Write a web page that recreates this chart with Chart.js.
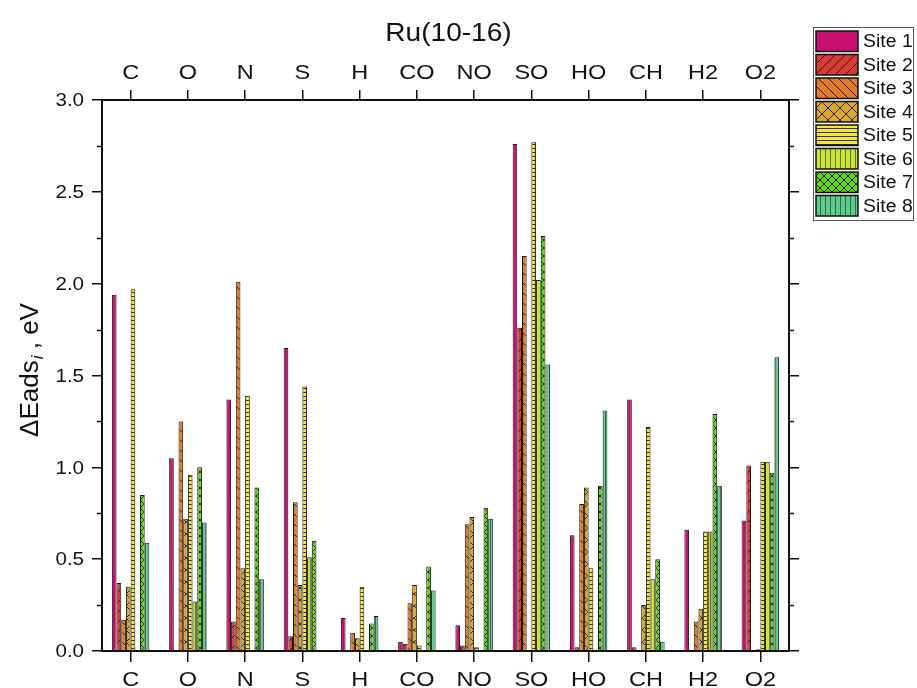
<!DOCTYPE html>
<html>
<head>
<meta charset="utf-8">
<script src="https://cdn.jsdelivr.net/npm/chart.js@4.4.1/dist/chart.umd.min.js"></script>
<style>
    html, body { margin: 0; padding: 0; background: #fff; }
    #wrap { width: 917px; height: 688px; }
</style>
</head>
<body>
<div id="wrap"><canvas id="chart" width="917" height="688"></canvas></div>
<script>
const categories = ['C', 'O', 'N', 'S', 'H', 'CO', 'NO', 'SO', 'HO', 'CH', 'H2', 'O2'];
const siteLabels = ['Site 1', 'Site 2', 'Site 3', 'Site 4', 'Site 5', 'Site 6', 'Site 7', 'Site 8'];

const site1 = [1.94, 1.05, 1.37, 1.65, 0.18, 0.05, 0.14, 2.76, 0.63, 1.37, 0.66, 0.71];
const site2 = [0.37, 0, 0.16, 0.08, 0, 0.04, 0.03, 1.76, 0.02, 0.02, 0, 1.01];
const site3 = [0.17, 1.25, 2.01, 0.81, 0.10, 0.26, 0.69, 2.15, 0.80, 0, 0.16, 0];
const site4 = [0.35, 0.72, 0.45, 0.36, 0.07, 0.36, 0.73, 0, 0.89, 0.25, 0.23, 0.01];
const site5 = [1.97, 0.96, 1.39, 1.44, 0.35, 0.03, 0.02, 2.77, 0.45, 1.22, 0.65, 1.03];
const site6 = [0, 0.27, 0, 0.51, 0, 0, 0, 2.02, 0, 0.39, 0.65, 1.03];
const site7 = [0.85, 1.00, 0.89, 0.60, 0.15, 0.46, 0.78, 2.26, 0.90, 0.50, 1.29, 0.97];
const site8 = [0.59, 0.70, 0.39, 0, 0.19, 0.33, 0.72, 1.56, 1.31, 0.05, 0.90, 1.60];

const yMajor = [0, 0.5, 1.0, 1.5, 2.0, 2.5, 3.0];
const yMinor = [0.25, 0.75, 1.25, 1.75, 2.25, 2.75];
const chartTitle = 'Ru(10-16)';

const siteColors = ['#c8106e', '#d83a34', '#e07b2c', '#d9a533', '#f1e53c', '#c7e52e', '#67d31d', '#5fcb8c'];
const siteHatch = ['none', 'fwd', 'back', 'cross', 'hlines', 'vlines', 'xsmall', 'vlines'];

const FONT = '"Liberation Sans", Arial, sans-serif';

function makePattern(color, kind) {
    const s = kind === 'cross' ? 12 : kind === 'xsmall' ? 8 : kind === 'hlines' ? 4 : kind === 'vlines' ? 5 : 10;
    const c = document.createElement('canvas');
    c.width = s; c.height = s;
    const g = c.getContext('2d');
    g.fillStyle = color;
    g.fillRect(0, 0, s, s);
    g.strokeStyle = kind === 'vlines' ? 'rgba(20,20,20,0.55)' : 'rgba(20,20,20,0.85)';
    g.lineWidth = 1;
    const fwd = () => {
        g.beginPath();
        g.moveTo(-1, s + 1); g.lineTo(s + 1, -1);
        g.moveTo(-1, 1); g.lineTo(1, -1);
        g.moveTo(s - 1, s + 1); g.lineTo(s + 1, s - 1);
        g.stroke();
    };
    const back = () => {
        g.beginPath();
        g.moveTo(-1, -1); g.lineTo(s + 1, s + 1);
        g.moveTo(s - 1, -1); g.lineTo(s + 1, 1);
        g.moveTo(-1, s - 1); g.lineTo(1, s + 1);
        g.stroke();
    };
    if (kind === 'fwd') fwd();
    if (kind === 'back') back();
    if (kind === 'cross' || kind === 'xsmall') { fwd(); back(); }
    if (kind === 'hlines') {
        g.beginPath(); g.moveTo(0, 0.5); g.lineTo(s, 0.5); g.stroke();
    }
    if (kind === 'vlines') {
        g.beginPath(); g.moveTo(0.5, 0); g.lineTo(0.5, s); g.stroke();
    }
    return g.createPattern(c, 'repeat');
}

const sites = [site1, site2, site3, site4, site5, site6, site7, site8];
const fills = siteColors.map((col, i) => makePattern(col, siteHatch[i]));

// text with a slight horizontal stretch, like the original figure
function text(ctx, str, x, y, size, sx, align, baseline) {
    ctx.save();
    ctx.font = size + 'px ' + FONT;
    ctx.fillStyle = '#111';
    ctx.textAlign = align;
    ctx.textBaseline = baseline;
    ctx.translate(x, y);
    ctx.scale(sx, 1);
    ctx.fillText(str, 0, 0);
    ctx.restore();
}

const decorations = {
    id: 'decorations',
    afterDraw(chart) {
        const ctx = chart.ctx;
        const x = chart.scales.x;
        const y = chart.scales.y;
        const area = chart.chartArea;

        // minor ticks, left and right
        ctx.save();
        ctx.strokeStyle = '#111';
        ctx.lineWidth = 1.5;
        yMinor.forEach(v => {
            const py = Math.round(y.getPixelForValue(v)) + 0.5;
            ctx.beginPath();
            ctx.moveTo(area.left - 5, py); ctx.lineTo(area.left, py);
            ctx.moveTo(area.right, py); ctx.lineTo(area.right + 5, py);
            ctx.stroke();
        });
        ctx.restore();

        // y tick labels
        yMajor.forEach(v => {
            text(ctx, v.toFixed(1), area.left - 18, y.getPixelForValue(v) + 1, 19, 1.08, 'right', 'middle');
        });

        // category labels top and bottom
        categories.forEach((c, i) => {
            const px = x.getPixelForValue(i);
            text(ctx, c, px, 79, 21, 1.12, 'center', 'alphabetic');
            text(ctx, c, px, 686, 21, 1.12, 'center', 'alphabetic');
        });

        // title
        text(ctx, chartTitle, (area.left + area.right) / 2 + 3, 41, 26, 1.08, 'center', 'alphabetic');

        // y axis title: ΔEads_i , eV
        ctx.save();
        ctx.translate(38, 370);
        ctx.rotate(-Math.PI / 2);
        ctx.fillStyle = '#111';
        ctx.textBaseline = 'alphabetic';
        ctx.textAlign = 'left';
        const big = '26px ' + FONT;
        const sub = 'italic 17px ' + FONT;
        ctx.font = big;
        const w1 = ctx.measureText('\u0394Eads').width;
        const w3 = ctx.measureText(' , eV').width;
        ctx.font = sub;
        const w2 = ctx.measureText('i').width;
        let cx = -(w1 + w2 + w3) / 2;
        ctx.font = big;
        ctx.fillText('\u0394Eads', cx, 0);
        cx += w1;
        ctx.font = sub;
        ctx.fillText('i', cx + 1, 5);
        cx += w2;
        ctx.font = big;
        ctx.fillText(' , eV', cx, 0);
        ctx.restore();

        // legend
        const lx = 813, ly = 27, lw = 100, rowH = 23.5;
        ctx.save();
        ctx.fillStyle = '#fff';
        ctx.fillRect(lx, ly, lw, rowH * siteLabels.length + 5);
        ctx.strokeStyle = '#555';
        ctx.lineWidth = 1;
        ctx.strokeRect(lx + 0.5, ly + 0.5, lw, rowH * siteLabels.length + 5);
        siteLabels.forEach((lab, i) => {
            const top = ly + 3 + i * rowH;
            ctx.fillStyle = fills[i];
            ctx.fillRect(lx + 3, top + 1, 42, rowH - 3);
            ctx.strokeStyle = '#111';
            ctx.lineWidth = 1.5;
            ctx.strokeRect(lx + 3, top + 1, 42, rowH - 3);
            text(ctx, lab, lx + 50, top + rowH / 2 + 0.5, 18, 1.08, 'left', 'middle');
        });
        ctx.restore();
    }
};

const axisGrid = (len) => ({
    display: true,
    drawOnChartArea: false,
    drawTicks: true,
    tickLength: len,
    offset: false,
    color: '#111',
    lineWidth: 1.5
});
const axisBorder = { display: true, color: '#111', width: 2 };

new Chart(document.getElementById('chart'), {
    type: 'bar',
    data: {
        labels: categories,
        datasets: sites.map((vals, i) => ({
            label: siteLabels[i],
            data: vals,
            backgroundColor: fills[i],
            borderColor: '#1a1a1a',
            borderWidth: 1,
            borderSkipped: 'start',
            categoryPercentage: 0.655,
            barPercentage: 1.0,
            xAxisID: 'x',
            yAxisID: 'y'
        }))
    },
    options: {
        responsive: false,
        animation: false,
        events: [],
        layout: { padding: 0 },
        plugins: {
            legend: { display: false },
            tooltip: { enabled: false },
            title: { display: false }
        },
        scales: {
            x: {
                type: 'category',
                position: 'bottom',
                offset: true,
                grid: axisGrid(11),
                border: axisBorder,
                ticks: { display: false },
                afterFit: s => { s.height = 37; }
            },
            xTop: {
                type: 'category',
                position: 'top',
                offset: true,
                labels: categories,
                grid: axisGrid(10),
                border: axisBorder,
                ticks: { display: false },
                afterFit: s => { s.height = 100; }
            },
            y: {
                position: 'left',
                min: 0,
                max: 3,
                ticks: { stepSize: 0.5, display: false },
                grid: axisGrid(10),
                border: axisBorder,
                afterFit: s => { s.width = 102; }
            },
            yRight: {
                position: 'right',
                min: 0,
                max: 3,
                ticks: { stepSize: 0.5, display: false },
                grid: axisGrid(10),
                border: axisBorder,
                afterFit: s => { s.width = 128; }
            }
        }
    },
    plugins: [decorations]
});
</script>
</body>
</html>
